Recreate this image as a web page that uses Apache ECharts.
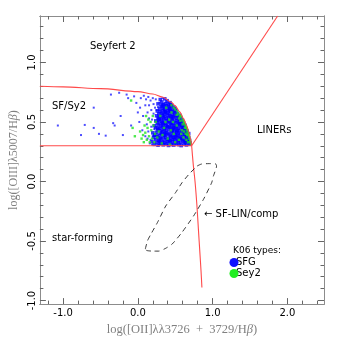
<!DOCTYPE html>
<html>
<head>
<meta charset="utf-8">
<script src="https://cdn.jsdelivr.net/npm/echarts@6/dist/echarts.min.js"></script>
<style>
  html, body { margin: 0; padding: 0; background: #fff; }
  #chart { width: 341px; height: 341px; }
</style>
</head>
<body>
<div id="chart"></div>
<script>
// axis ticks
var xMajor = [-1, 0, 1, 2];
var xMinor = [-1.2, -0.8, -0.6, -0.4, -0.2, 0.2, 0.4, 0.6, 0.8, 1.2, 1.4, 1.6, 1.8, 2.2, 2.4];
var yMajor = [-1, -0.5, 0, 0.5, 1];
var yMinor = [-0.9, -0.8, -0.7, -0.6, -0.4, -0.3, -0.2, -0.1, 0.1, 0.2, 0.3, 0.4, 0.6, 0.7, 0.8, 0.9, 1.1, 1.2, 1.3];

// demarcation lines
var sfSy2Curve = [[-1.31, 0.80], [-1.0, 0.795], [-0.5, 0.78], [0.0, 0.755], [0.2, 0.735], [0.33, 0.71],
  [0.45, 0.665], [0.5, 0.635], [0.56, 0.585], [0.61, 0.53], [0.65, 0.475], [0.68, 0.42], [0.70, 0.37], [0.72, 0.30]];
var sfLinCurve = [[0.72, 0.30], [0.74, 0.15], [0.765, 0.0], [0.79, -0.2], [0.81, -0.4], [0.83, -0.6], [0.845, -0.75], [0.857, -0.89]];
var sfSy2Floor = [[-1.31, 0.30], [0.72, 0.30]];
var linerLine = [[0.72, 0.30], [1.87, 1.39]];
var compLoop = [[0.10, -0.567], [0.13, -0.497], [0.175, -0.442], [0.263, -0.344], [0.373, -0.206], [0.504, -0.094],
  [0.59, -0.011], [0.68, 0.058], [0.79, 0.128], [0.85, 0.146], [0.95, 0.15], [1.04, 0.148], [1.053, 0.13],
  [1.01, 0.044], [0.987, -0.011], [0.878, -0.15], [0.746, -0.289], [0.59, -0.428], [0.46, -0.525],
  [0.373, -0.561], [0.28, -0.585], [0.197, -0.585], [0.12, -0.58], [0.10, -0.567]];

// K06 SFG galaxies: dense core
var sfgCore = [
  [0.22,0.312],[0.27,0.305],[0.31,0.318],[0.34,0.308],[0.38,0.315],[0.41,0.303],[0.45,0.311],[0.48,0.306],[0.52,0.317],[0.55,0.309],[0.58,0.302],[0.62,0.314],[0.65,0.307],[0.69,0.313],
  [0.19,0.334],[0.25,0.327],[0.29,0.338],[0.33,0.331],[0.36,0.325],[0.40,0.336],[0.43,0.329],[0.47,0.333],[0.50,0.326],[0.54,0.339],[0.57,0.330],[0.61,0.335],[0.64,0.328],[0.67,0.337],[0.70,0.323],
  [0.24,0.352],[0.28,0.346],[0.31,0.357],[0.35,0.349],[0.39,0.354],[0.42,0.345],[0.46,0.356],[0.49,0.350],[0.53,0.347],[0.56,0.358],[0.60,0.351],[0.63,0.344],[0.66,0.355],[0.69,0.348],
  [0.21,0.368],[0.26,0.374],[0.30,0.366],[0.34,0.377],[0.37,0.370],[0.41,0.364],[0.44,0.375],[0.48,0.369],[0.51,0.378],[0.55,0.372],[0.58,0.365],[0.62,0.376],[0.65,0.371],[0.68,0.367],
  [0.23,0.392],[0.28,0.386],[0.32,0.395],[0.36,0.388],[0.39,0.397],[0.43,0.390],[0.46,0.384],[0.50,0.394],[0.53,0.387],[0.57,0.396],[0.60,0.391],[0.64,0.385],[0.67,0.393],
  [0.20,0.409],[0.25,0.414],[0.30,0.406],[0.33,0.417],[0.37,0.411],[0.41,0.404],[0.45,0.415],[0.48,0.408],[0.52,0.413],[0.55,0.405],[0.59,0.416],[0.62,0.410],[0.66,0.407],[0.68,0.402],
  [0.27,0.433],[0.31,0.427],[0.35,0.436],[0.38,0.429],[0.42,0.434],[0.46,0.425],[0.49,0.437],[0.53,0.431],[0.56,0.426],[0.60,0.435],[0.63,0.428],[0.66,0.422],
  [0.24,0.452],[0.29,0.446],[0.33,0.455],[0.36,0.448],[0.40,0.457],[0.44,0.450],[0.47,0.444],[0.51,0.454],[0.54,0.447],[0.58,0.456],[0.61,0.449],[0.64,0.443],
  [0.22,0.468],[0.27,0.474],[0.31,0.466],[0.34,0.475],[0.38,0.469],[0.42,0.464],[0.45,0.476],[0.49,0.470],[0.52,0.465],[0.56,0.474],[0.59,0.467],[0.63,0.472],
  [0.26,0.492],[0.30,0.486],[0.33,0.495],[0.37,0.488],[0.40,0.497],[0.44,0.490],[0.47,0.484],[0.51,0.494],[0.54,0.487],[0.58,0.496],[0.61,0.489],
  [0.24,0.509],[0.28,0.514],[0.32,0.506],[0.35,0.517],[0.39,0.511],[0.42,0.504],[0.46,0.515],[0.49,0.508],[0.53,0.513],[0.56,0.505],[0.59,0.512],
  [0.27,0.533],[0.31,0.527],[0.34,0.536],[0.38,0.529],[0.41,0.534],[0.45,0.525],[0.48,0.537],[0.52,0.531],[0.55,0.526],[0.58,0.532],
  [0.25,0.552],[0.29,0.546],[0.33,0.555],[0.36,0.548],[0.40,0.557],[0.43,0.550],[0.47,0.544],[0.50,0.554],[0.54,0.547],[0.56,0.556],
  [0.28,0.568],[0.32,0.574],[0.35,0.566],[0.39,0.575],[0.42,0.569],[0.46,0.564],[0.49,0.576],[0.53,0.570],
  [0.26,0.592],[0.30,0.586],[0.34,0.595],[0.37,0.588],[0.41,0.597],[0.44,0.590],[0.48,0.584],[0.51,0.594],
  [0.29,0.609],[0.33,0.614],[0.36,0.606],[0.40,0.617],[0.43,0.611],[0.47,0.604],[0.50,0.612],
  [0.31,0.633],[0.35,0.627],[0.38,0.636],[0.42,0.629],[0.45,0.634],[0.48,0.626],
  [0.27,0.652],[0.34,0.646],[0.37,0.655],[0.41,0.648],[0.44,0.643],
  [0.32,0.668],[0.39,0.674],[0.43,0.662],[0.30,0.688],[0.36,0.694],
  [0.295,0.322],[0.435,0.344],[0.575,0.362],[0.355,0.401],[0.515,0.423],[0.395,0.462],[0.555,0.484],
  [0.285,0.521],[0.445,0.541],[0.365,0.582],[0.425,0.601],[0.325,0.642],[0.605,0.468],[0.635,0.398],
  [0.505,0.366],[0.475,0.452],[0.345,0.488],[0.265,0.446],[0.225,0.388],[0.655,0.341],[0.525,0.558]
];

// K06 SFG galaxies: sparse outliers
var sfgSparse = [
  [-1.07,0.47],[-0.76,0.39],[-0.71,0.475],[-0.59,0.62],[-0.59,0.45],[-0.52,0.40],[-0.43,0.385],[-0.36,0.73],
  [-0.33,0.49],[-0.31,0.47],[-0.23,0.55],[-0.20,0.39],[-0.25,0.745],[-0.15,0.73],[-0.13,0.70],[-0.09,0.47],
  [-0.05,0.715],[-0.02,0.66],[0.00,0.58],[0.03,0.62],[0.04,0.70],[0.07,0.55],[0.08,0.72],[0.10,0.64],
  [0.11,0.69],[0.13,0.58],[0.14,0.71],[0.15,0.64],[0.17,0.68],[0.18,0.60],[0.20,0.70],[0.21,0.65],
  [0.23,0.62],[0.24,0.69],[0.02,0.50],[0.06,0.43],[0.10,0.38],[0.12,0.48],[0.14,0.42],[0.15,0.53],
  [0.17,0.35],[0.18,0.46],[0.19,0.52],[0.20,0.385],[0.21,0.57],[0.22,0.44],[0.16,0.32],[0.13,0.36],
  [0.19,0.31],[0.25,0.60],[0.27,0.625],[0.29,0.66],[0.33,0.70],[0.40,0.685],[0.46,0.648]
];

// K06 Seyfert 2 galaxies
var sey2Points = [
  [0.45,0.64],[0.48,0.62],[0.50,0.605],[0.53,0.59],[0.54,0.57],[0.56,0.555],[0.57,0.54],[0.58,0.55],
  [0.60,0.52],[0.61,0.505],[0.62,0.495],[0.63,0.48],[0.64,0.465],[0.65,0.45],[0.66,0.435],[0.665,0.42],
  [0.67,0.405],[0.68,0.39],[0.685,0.375],[0.69,0.36],[0.70,0.345],[0.70,0.33],[0.71,0.315],[0.66,0.39],
  [0.63,0.45],[0.60,0.48],[0.57,0.51],[0.55,0.53],[0.52,0.56],[0.59,0.43],[0.62,0.42],[0.64,0.40],
  [0.61,0.37],[0.65,0.35],[0.67,0.33],
  [0.35,0.45],[0.42,0.52],[0.48,0.40],[0.52,0.47],[0.40,0.36],[0.30,0.55],[0.55,0.35],[0.45,0.58],
  [0.38,0.62],[0.50,0.33],[0.58,0.40],[0.33,0.39],[0.44,0.43],[0.37,0.50],[0.47,0.50],[0.28,0.42],
  [0.26,0.37],[0.32,0.32],[0.43,0.31],
  [0.05,0.36],[0.08,0.33],[0.10,0.41],[0.12,0.35],[0.13,0.45],[0.15,0.38],[0.16,0.33],[0.18,0.43],
  [0.19,0.36],[0.21,0.47],[0.22,0.33],[0.14,0.52],[0.17,0.50],[0.09,0.47],[0.11,0.55],[0.03,0.42],
  [-0.07,0.45],[-0.04,0.38],[-0.09,0.68],[0.20,0.55],[0.23,0.40],[0.24,0.50],[0.07,0.39]
];

var chart = echarts.init(document.getElementById('chart'));

var frameColor = '#8c8c8c';
var sans = 'DejaVu Sans';
var serif = 'Liberation Serif';
var red = '#ff4a4a';
var fmt = function (v) { return v.toFixed(1); };

function axis(kind, pos, ticks, len, opts) {
  var a = {
    type: 'value',
    position: pos,
    min: kind === 'x' ? -1.31 : -1.03,
    max: kind === 'x' ? 2.49 : 1.39,
    scale: true,
    splitLine: { show: false },
    axisLine: { show: true, onZero: false, lineStyle: { color: frameColor, width: 1 } },
    axisTick: { show: true, inside: true, length: len, customValues: ticks, lineStyle: { color: '#666', width: 1 } },
    axisLabel: { show: false }
  };
  return Object.assign(a, opts || {});
}

var titleRich = {
  a: { fontFamily: serif, fontSize: 12.5, color: '#808080' },
  b: { fontFamily: serif, fontSize: 12.5, fontStyle: 'italic', color: '#808080' }
};

var option = {
  animation: false,
  backgroundColor: '#fff',
  grid: { left: 35, right: 17, top: 16, bottom: 36 },
  xAxis: [
    axis('x', 'bottom', xMajor, 6, {
      axisLabel: { show: true, customValues: xMajor, formatter: fmt, margin: 4, color: '#000', fontSize: 10, fontFamily: sans },
      name: '{a|log([OII]λλ3726\u2002+\u20023729/H}{b|β}{a|)}',
      nameLocation: 'middle',
      nameGap: 16,
      nameTextStyle: { rich: titleRich }
    }),
    axis('x', 'bottom', xMinor, 3.5),
    axis('x', 'top', xMajor, 6),
    axis('x', 'top', xMinor, 3.5)
  ],
  yAxis: [
    axis('y', 'left', yMajor, 6, {
      axisLabel: { show: true, customValues: yMajor, formatter: fmt, rotate: 90, margin: 2, color: '#000', fontSize: 10, fontFamily: sans },
      name: '{a|log([OIII]λ5007/H}{b|β}{a|)}',
      nameLocation: 'middle',
      nameRotate: 90,
      nameGap: 17,
      nameTextStyle: {
        rich: {
          a: { fontFamily: serif, fontSize: 12, color: '#808080' },
          b: { fontFamily: serif, fontSize: 12, fontStyle: 'italic', color: '#808080' }
        }
      }
    }),
    axis('y', 'left', yMinor, 3.5),
    axis('y', 'right', yMajor, 6),
    axis('y', 'right', yMinor, 3.5)
  ],
  series: [
    {
      type: 'scatter', name: 'SFG', data: sfgSparse, symbol: 'rect', symbolSize: 2,
      itemStyle: { color: '#2020ff' }, z: 3
    },
    {
      type: 'scatter', name: 'SFG', data: sfgCore, symbol: 'rect', symbolSize: 3.6,
      itemStyle: { color: '#0000ff' }, z: 3
    },
    {
      type: 'scatter', name: 'Sey2', data: sey2Points, symbol: 'rect', symbolSize: 2.4,
      itemStyle: { color: '#22e322' }, z: 4
    },
    {
      type: 'line', data: sfSy2Curve, showSymbol: false, smooth: 0.3, smoothMonotone: 'x',
      lineStyle: { color: red, width: 1.1 }, z: 5
    },
    {
      type: 'line', data: sfLinCurve, showSymbol: false, smooth: 0.3,
      lineStyle: { color: red, width: 1.1 }, z: 5
    },
    {
      type: 'line', data: sfSy2Floor, showSymbol: false,
      lineStyle: { color: red, width: 1.1 }, z: 5
    },
    {
      type: 'line', data: linerLine, showSymbol: false,
      lineStyle: { color: red, width: 1.1 }, z: 5
    },
    {
      type: 'line', data: compLoop, showSymbol: false, smooth: 0.2,
      lineStyle: { color: '#222', width: 0.9, type: [5, 4] }, z: 5
    }
  ],
  graphic: [
    { type: 'text', left: 90, top: 41, style: { text: 'Seyfert 2', font: '10px "DejaVu Sans"', fill: '#000' } },
    { type: 'text', left: 52, top: 101, style: { text: 'SF/Sy2', font: '10px "DejaVu Sans"', fill: '#000' } },
    { type: 'text', left: 257, top: 125, style: { text: 'LINERs', font: '10px "DejaVu Sans"', fill: '#000' } },
    { type: 'text', left: 52, top: 233, style: { text: 'star-forming', font: '10px "DejaVu Sans"', fill: '#000' } },
    { type: 'text', left: 204, top: 209, style: { text: '← SF-LIN/comp', font: '10px "DejaVu Sans"', fill: '#000' } },
    { type: 'text', left: 233, top: 246, style: { text: 'K06 types:', font: '9px "DejaVu Sans"', fill: '#000' } },
    { type: 'text', left: 236, top: 257, style: { text: 'SFG', font: '10px "DejaVu Sans"', fill: '#000' } },
    { type: 'text', left: 236, top: 268, style: { text: 'Sey2', font: '10px "DejaVu Sans"', fill: '#000' } },
    { type: 'circle', shape: { cx: 234, cy: 262.5, r: 4.5 }, style: { fill: '#1010ff' }, z: 10 },
    { type: 'circle', shape: { cx: 234, cy: 273.5, r: 4.5 }, style: { fill: '#22ee22' }, z: 10 }
  ]
};

chart.setOption(option);
</script>
</body>
</html>
